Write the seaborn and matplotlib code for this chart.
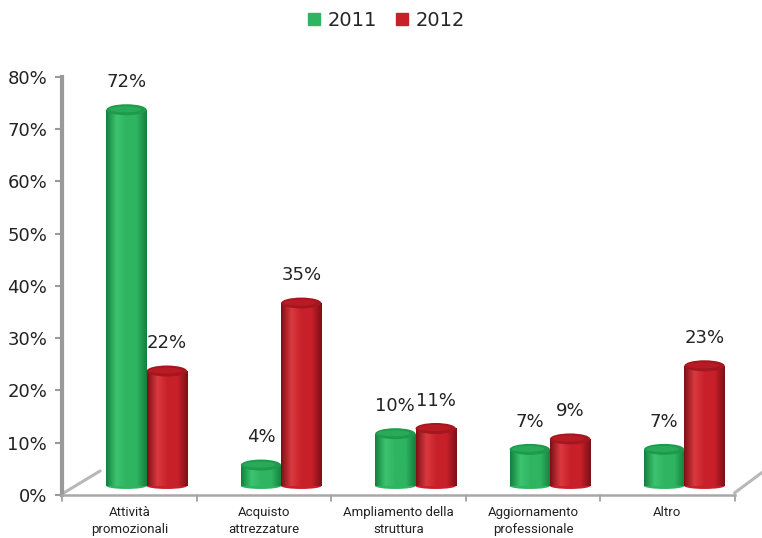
import numpy as np
import pandas as pd
import matplotlib
matplotlib.use("Agg")
import matplotlib.pyplot as plt
import matplotlib.transforms as mtransforms
import seaborn as sns
from matplotlib.patches import Ellipse
from matplotlib.colors import LinearSegmentedColormap
from matplotlib.lines import Line2D

categories = ["Attività\npromozionali", "Acquisto\nattrezzature", "Ampliamento della\nstruttura",
              "Aggiornamento\nprofessionale", "Altro"]
years = ["2011", "2012"]
values_2011 = [72, 4, 10, 7, 7]
values_2012 = [22, 35, 11, 9, 23]
y_ticks = [0, 10, 20, 30, 40, 50, 60, 70, 80]

df = pd.DataFrame({
    "Categoria": categories * 2,
    "Anno": [years[0]] * len(categories) + [years[1]] * len(categories),
    "Valore": values_2011 + values_2012,
})

green = "#2FB562"
red = "#C8202A"
palette = {"2011": green, "2012": red}
dark = {"2011": "#14803E", "2012": "#7E1016"}
light = {"2011": "#3DC470", "2012": "#D93A40"}
topc = {"2011": "#1E9A4C", "2012": "#A5161E"}

sns.set_theme(style="white")
plt.rcParams["font.family"] = ["DejaVu Sans"]

fig = plt.figure(figsize=(7.62, 5.38), dpi=100)
ax = fig.add_axes([0.082, 0.080, 0.882, 0.777])

sns.barplot(data=df, x="Categoria", y="Valore", hue="Anno", palette=palette,
            width=0.6, ax=ax, legend=False, saturation=1)

ax.set_ylim(0, 80)
ax.set_xlim(-0.5, len(categories) - 0.5)
ax.set_yticks(y_ticks)
ax.set_yticklabels([f"{t}%" for t in y_ticks], fontsize=13, color="#222222")
ax.set_xticks(range(len(categories)))
ax.set_xticklabels(categories, fontsize=9.5, family=["Roboto", "DejaVu Sans"],
                   color="#222222", linespacing=1.35)
ax.tick_params(axis="x", length=0, pad=8)
ax.tick_params(axis="y", length=5, width=1.5, color="#9a9a9a", direction="out", left=True, pad=6)
ax.set_xlabel("")
ax.set_ylabel("")

for s in ["top", "right"]:
    ax.spines[s].set_visible(False)
ax.spines["left"].set_color("#9a9a9a")
ax.spines["left"].set_linewidth(3)
ax.spines["bottom"].set_color("#a8a8a8")
ax.spines["bottom"].set_linewidth(1.8)

# category separators on x-axis
for b in np.arange(-0.5, len(categories) + 0.5, 1.0):
    ax.plot([b, b], [0, -1.2], color="#9a9a9a", lw=1.2, clip_on=False)

# floor diagonals
ax.plot([-0.49, -0.22], [0.4, 4.6], color="#b8b8b8", lw=2.2, clip_on=False)
ax.plot([4.5, 4.72], [0.4, 4.6], color="#b8b8b8", lw=2.2, clip_on=False)

# 3D depth offset for the bars
offset = ax.transData + mtransforms.ScaledTranslation(17 / 100, 9 / 100, fig.dpi_scale_trans)

px_per_unit = ax.get_position().height * fig.get_figheight() * fig.dpi / 80.0
ell_h = 11.0 / px_per_unit
bot_h = 6.0 / px_per_unit
patches = [p for p in ax.patches if p.get_height() > 0]
n = len(categories)
for i, p in enumerate(patches):
    yr = years[i // n]
    p.set_transform(offset)
    x0, w, h = p.get_x(), p.get_width(), p.get_height()
    xc = x0 + w / 2
    cmap = LinearSegmentedColormap.from_list("c", [dark[yr], light[yr], palette[yr], palette[yr], dark[yr]])
    grad = np.linspace(0, 1, 64).reshape(1, -1)
    bot = Ellipse((xc, 0), w, bot_h, facecolor=palette[yr], edgecolor="none", zorder=2.4,
                  transform=offset)
    ax.add_patch(bot)
    im = ax.imshow(grad, cmap=cmap, aspect="auto", extent=(x0, x0 + w, 0, h), zorder=2.5,
                   transform=offset)
    im.set_clip_path(p)
    top = Ellipse((xc, h), w, ell_h, facecolor=topc[yr], edgecolor="none", zorder=3,
                  transform=offset)
    ax.add_patch(top)
    top2 = Ellipse((xc - w * 0.04, h + ell_h * 0.04), w * 0.8, ell_h * 0.55,
                   facecolor=palette[yr], edgecolor="none", zorder=3.1, alpha=0.6,
                   transform=offset)
    ax.add_patch(top2)
    ax.text(xc, h + 3.6, f"{int(round(h))}%", ha="center", va="bottom",
            fontsize=13, color="#222222", transform=offset)

ax.set_xlim(-0.5, len(categories) - 0.5)
ax.set_ylim(0, 80)

# legend
handles = [Line2D([], [], marker="s", linestyle="", markersize=9, color=palette[y]) for y in years]
fig.legend(handles, years, loc="upper center", bbox_to_anchor=(0.505, 1.012), ncol=2,
           frameon=False, fontsize=14, handletextpad=0.2, columnspacing=0.8, handlelength=1.0)

fig.savefig("out.png", dpi=100)
